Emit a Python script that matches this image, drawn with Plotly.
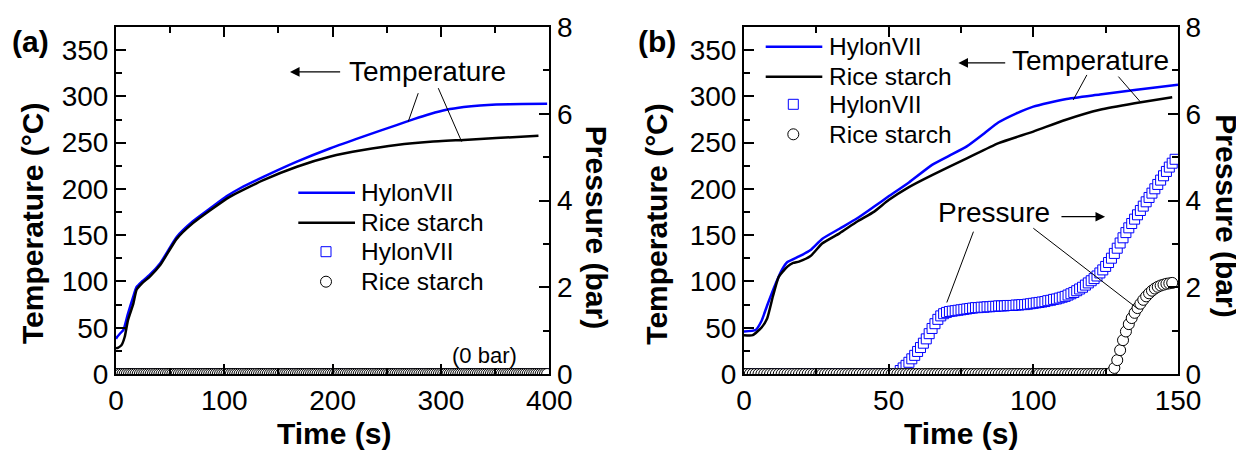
import plotly.graph_objects as go

FONT = "Liberation Sans, Arial, sans-serif"
BLUE = "#0000FF"

# ---------------- Panel (a) data ----------------
hylon_a_t = [0, 1, 4, 7, 11, 16, 19, 24, 31, 41, 56, 71, 87, 102, 115, 136, 167, 198, 228, 259, 275, 290, 305, 321, 336, 351, 375, 398]
hylon_a_T = [38, 40, 44, 48, 65, 84, 94, 100, 107, 120, 148, 165, 179, 192, 201, 213, 229.5, 244, 256.5, 269, 275.5, 281, 285.5, 288.5, 290.3, 291.3, 291.8, 292]
rice_a_t = [0, 1, 5, 8, 11, 16, 19, 24, 31, 41, 56, 71, 87, 105, 136, 167, 198, 228, 259, 290, 321, 351, 390]
rice_a_T = [28, 28, 31, 40, 58, 76, 91, 98, 105, 118, 146, 163, 177, 191.5, 209.5, 224, 235, 242, 247.5, 251, 253, 255, 257.5]
press_a_t = list(range(0, 400, 2))
hylon_a_p = [0.0] * len(press_a_t)
rice_a_p = [0.0] * len(press_a_t)

# ---------------- Panel (b) data ----------------
hylon_b_t = [0, 4, 6, 8, 11, 13, 15, 19, 23, 27, 33, 39, 45, 50, 57, 65, 71, 77, 83, 88, 94, 100, 111, 123, 135, 150]
hylon_b_T = [46, 47.5, 57, 74, 98, 112, 121, 127, 134, 146, 157, 168, 181, 192, 207, 226, 236, 246, 260, 272, 281.5, 289, 297, 302, 307, 312.5]
rice_b_t = [0, 3, 6, 8, 10, 12, 15, 17, 19, 23, 27, 33, 39, 45, 50, 57, 65, 77, 88, 100, 111, 123, 135, 148]
rice_b_T = [42, 42, 50, 60, 84, 105, 116, 120, 121.5, 127.5, 141, 152, 164.5, 175.5, 188, 202, 215, 233, 249.5, 262, 274.5, 285.5, 292.5, 299]

hylon_b_pt = list(range(0, 150))
hylon_b_p = [0.0] * 54 + [
    0.08, 0.14, 0.20, 0.27, 0.35, 0.43, 0.52, 0.61, 0.71, 0.81,
    0.93, 1.05, 1.16, 1.26, 1.34, 1.39, 1.42, 1.44, 1.45, 1.46,
    1.47, 1.48, 1.49, 1.50, 1.51, 1.52, 1.53, 1.53, 1.54, 1.54,
    1.55, 1.55, 1.56, 1.56, 1.57, 1.57, 1.57, 1.58, 1.58, 1.58,
    1.59, 1.59, 1.60, 1.60, 1.61, 1.62, 1.63, 1.64, 1.65, 1.66,
    1.67, 1.69, 1.70, 1.72, 1.73, 1.75, 1.77, 1.79, 1.82, 1.85,
    1.88, 1.92, 1.96, 2.00, 2.05, 2.10, 2.15, 2.20, 2.26, 2.33,
    2.40, 2.48, 2.57, 2.67, 2.78, 2.90, 3.02, 3.14, 3.26, 3.37,
    3.47, 3.57, 3.67, 3.77, 3.87, 3.97, 4.07, 4.17, 4.27, 4.37,
    4.47, 4.57, 4.67, 4.77, 4.86, 4.95]
rice_b_pt = list(range(0, 149))
rice_b_p = [0.0] * 127 + [
    0.04, 0.14, 0.32, 0.55, 0.78, 0.98, 1.15, 1.29, 1.41, 1.52,
    1.62, 1.71, 1.79, 1.86, 1.92, 1.97, 2.01, 2.04, 2.06, 2.08,
    2.09, 2.10]

series_names = ["HylonVII", "Rice starch", "HylonVII", "Rice starch"]

# page body margin of the browser offsets the figure by 8 px
OFF = 8
W, H = 1244 - OFF, 453 - OFF
def px(x):
    return (x - OFF) / W
def py(y):
    return 1 - (y - OFF) / H

PLOT_TOP, PLOT_BOT = 27, 374
ydom = [py(PLOT_BOT), py(PLOT_TOP)]

fig = go.Figure()

def add_panel(xa, ya, yb, tT, hT, rt, rT, pht, php, prt, prp):
    fig.add_trace(go.Scatter(x=tT, y=hT, mode="lines", name=series_names[0],
                             line=dict(color=BLUE, width=2.5, shape="spline", smoothing=0.5),
                             xaxis=xa, yaxis=ya, showlegend=False))
    fig.add_trace(go.Scatter(x=rt, y=rT, mode="lines", name=series_names[1],
                             line=dict(color="black", width=2.5, shape="spline", smoothing=0.5),
                             xaxis=xa, yaxis=ya, showlegend=False))
    fig.add_trace(go.Scatter(x=pht, y=php, mode="markers", name=series_names[2],
                             marker=dict(symbol="square", size=10, color="white",
                                         line=dict(color=BLUE, width=1)),
                             xaxis=xa, yaxis=yb, cliponaxis=True, showlegend=False))
    fig.add_trace(go.Scatter(x=prt, y=prp, mode="markers", name=series_names[3],
                             marker=dict(symbol="circle", size=11, color="white",
                                         line=dict(color="black", width=1)),
                             xaxis=xa, yaxis=yb, cliponaxis=True, showlegend=False))

add_panel("x", "y", "y2", hylon_a_t, hylon_a_T, rice_a_t, rice_a_T,
          press_a_t, hylon_a_p, press_a_t, rice_a_p)
add_panel("x2", "y3", "y4", hylon_b_t, hylon_b_T, rice_b_t, rice_b_T,
          hylon_b_pt, hylon_b_p, rice_b_pt, rice_b_p)

tickfont = dict(family=FONT, size=28, color="black")
common = dict(showline=True, linewidth=2, linecolor="black", ticks="inside",
              ticklen=10, tickwidth=2, tickcolor="black", showgrid=False,
              zeroline=False, tickfont=tickfont, automargin=False)
minor_t = lambda d: dict(dtick=d, ticklen=6, tickwidth=2, ticks="inside", tickcolor="black")

fig.update_layout(
    width=W, height=H, autosize=False,
    margin=dict(l=0, r=0, t=0, b=0, autoexpand=False),
    paper_bgcolor="white", plot_bgcolor="white",
    showlegend=False,
    xaxis=dict(domain=[px(116), px(549.3)], range=[0, 400], anchor="y", dtick=100,
               mirror="ticks", minor=minor_t(50), **common),
    yaxis=dict(domain=ydom, range=[0, 375], anchor="x", dtick=50,
               minor=minor_t(25), **common),
    yaxis2=dict(overlaying="y", side="right", anchor="x", range=[0, 8], dtick=2,
                minor=minor_t(1), **common),
    xaxis2=dict(domain=[px(744), px(1178)], range=[0, 150], anchor="y3", dtick=50,
                mirror="ticks", minor=minor_t(25), **common),
    yaxis3=dict(domain=ydom, range=[0, 375], anchor="x2", dtick=50,
                minor=minor_t(25), **common),
    yaxis4=dict(overlaying="y3", side="right", anchor="x2", range=[0, 8], dtick=2,
                minor=minor_t(1), **common),
)

ann = []
shapes = []

def ptext(text, x, y, size, bold=False, angle=0, xanchor="center"):
    ann.append(dict(text=(f"<b>{text}</b>" if bold else text), x=px(x), y=py(y),
                    xref="paper", yref="paper", showarrow=False, textangle=angle,
                    font=dict(family=FONT, size=size, color="black"),
                    xanchor=xanchor, yanchor="middle"))

ptext("(a)", 30, 42, 30, bold=True)
ptext("(b)", 657, 42, 30, bold=True)
ptext("Temperature (°C)", 33, 224, 30, bold=True, angle=-90)
ptext("Temperature (°C)", 656.7, 224, 30, bold=True, angle=-90)
ptext("Pressure (bar)", 596.7, 227.5, 30, bold=True, angle=90)
ptext("Pressure (bar)", 1226.7, 216, 30, bold=True, angle=90)
ptext("Time (s)", 333.5, 433, 30, bold=True)
ptext("Time (s)", 960.8, 433, 30, bold=True)

# legends (line samples, marker samples, labels)
def legend_block(xl0, xl1, xm, xt, ys):
    for y, col in ((ys[0], BLUE), (ys[1], "black")):
        shapes.append(dict(type="line", xref="paper", yref="paper", x0=px(xl0), x1=px(xl1),
                           y0=py(y), y1=py(y), line=dict(color=col, width=2.5)))
    shapes.append(dict(type="rect", xref="paper", yref="paper", xsizemode="pixel", ysizemode="pixel",
                       xanchor=px(xm), yanchor=py(ys[2]), x0=-5, x1=5, y0=-5, y1=5,
                       fillcolor="white", line=dict(color=BLUE, width=1)))
    shapes.append(dict(type="circle", xref="paper", yref="paper", xsizemode="pixel", ysizemode="pixel",
                       xanchor=px(xm), yanchor=py(ys[3]), x0=-5.5, x1=5.5, y0=-5.5, y1=5.5,
                       fillcolor="white", line=dict(color="black", width=1)))
    for name, y in zip(series_names, ys):
        ptext(name, xt, y, 24.5, xanchor="left")

legend_block(298.3, 355, 326, 359, [192.7, 222.7, 251.7, 281.7])
legend_block(765.7, 822.3, 793.3, 827, [46.7, 76.7, 104.3, 134.3])

def dtext(text, xr, yr, x, y, size):
    ann.append(dict(text=text, x=x, y=y, xref=xr, yref=yr, showarrow=False,
                    font=dict(family=FONT, size=size, color="black"),
                    xanchor="center", yanchor="middle"))

def arrow(xr, yr, x0, y0, x1, y1):
    ann.append(dict(text="", x=x1, y=y1, ax=x0, ay=y0, xref=xr, yref=yr,
                    axref=xr, ayref=yr, showarrow=True, arrowhead=2,
                    arrowsize=1.6, arrowwidth=1.2, arrowcolor="black", standoff=0))

dtext("Temperature", "x", "y", 288, 326.5, 28)
arrow("x", "y", 208.3, 326.5, 160.6, 326.5)
dtext("(0 bar)", "x", "y", 340.6, 20.5, 22)

dtext("Temperature", "x2", "y3", 119.6, 338.4, 28)
arrow("x2", "y3", 90.8, 336.2, 74.1, 336.2)
dtext("Pressure", "x2", "y3", 86.4, 174.6, 28)
arrow("x2", "y3", 109.2, 170, 124.8, 170)

def seg(xr, yr, x0, y0, x1, y1):
    shapes.append(dict(type="line", xref=xr, yref=yr, x0=x0, y0=y0, x1=x1, y1=y1,
                       line=dict(color="black", width=1)))

seg("x", "y", 279, 303.5, 269.8, 272.8)
seg("x", "y", 297.5, 308.9, 319.1, 251.1)
seg("x2", "y3", 118.5, 323.2, 113.8, 296.2)
seg("x2", "y3", 129.4, 321.4, 136.9, 294.4)
seg("x2", "y3", 79.3, 153.8, 70.1, 77.3)
seg("x2", "y3", 100, 157.5, 136.3, 70)

fig.update_layout(annotations=ann, shapes=shapes)

fig.write_html("out.html")
